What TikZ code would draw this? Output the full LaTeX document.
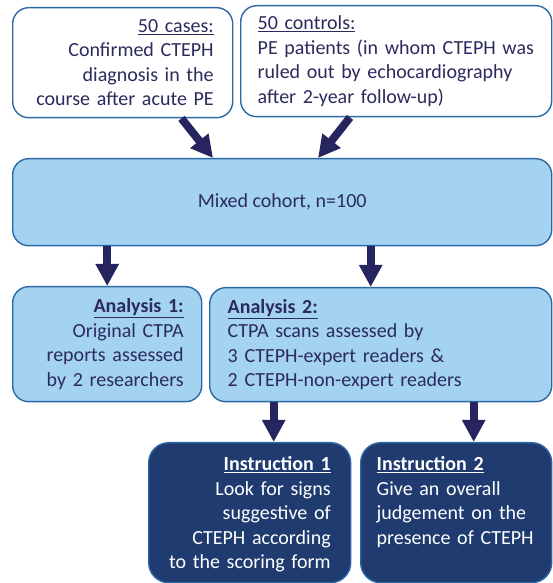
\documentclass[tikz,border=0pt]{standalone}
\usepackage{fontspec}
\setmainfont{Carlito}
\usetikzlibrary{arrows.meta}

\definecolor{boxline}{RGB}{44,104,166}
\definecolor{lightfill}{RGB}{163,211,240}
\definecolor{darkfill}{RGB}{31,59,111}
\definecolor{arrowcol}{RGB}{39,37,95}
\definecolor{txtcol}{RGB}{44,43,94}

\begin{document}
\begin{tikzpicture}[
  x=1pt, y=1pt,
  font=\fontsize{20}{24.5}\selectfont,
  box/.style={draw=boxline, line width=1.4pt, rounded corners=16pt,
              anchor=north west, inner ysep=0pt, text=txtcol},
  whitebox/.style={box, fill=white},
  lightbox/.style={box, fill=lightfill},
  darkbox/.style={box, fill=darkfill, text=white, rounded corners=20pt,
                  text height=28pt, text depth=112pt},
  arr/.style={-{Triangle[length=22pt,width=22pt]}, line width=8pt, arrowcol}
]
\useasboundingbox (0,0) rectangle (552,583);

% sources
\node[whitebox, minimum height=110pt, inner xsep=19pt, text width=182pt,
      align=right] (cases) at (12,576)
  {\underline{50 cases:}\\ Confirmed CTEPH\\ diagnosis in the\\ course after acute PE};
\node[whitebox, minimum height=111pt, inner xsep=17pt, text width=277pt,
      align=left] (controls) at (240,578)
  {\underline{50 controls:}\\ PE patients (in whom CTEPH was\\ ruled out by echocardiography\\ after 2-year follow-up)};

% cohort
\node[lightbox, minimum width=539pt, minimum height=87pt, align=center]
  (cohort) at (12,425) {Mixed cohort, n=100};

% analyses
\node[lightbox, minimum height=115pt, inner xsep=18pt, text width=153pt,
      align=right] (an1) at (12,297)
  {\textbf{\underline{Analysis 1:}}\\ Original CTPA\\ reports assessed\\ by 2 researchers};
\node[lightbox, minimum height=114pt, inner xsep=18pt, text width=306pt,
      align=left] (an2) at (209,296)
  {\textbf{\underline{Analysis 2:}}\\ CTPA scans assessed by\\ 3 CTEPH-expert readers \&\\ 2 CTEPH-non-expert readers};

% instructions
\node[darkbox, inner xsep=20pt, text width=162pt, align=right] (ins1) at (148,141)
  {\textbf{\underline{Instruction 1}}\\ Look for signs\\ suggestive of\\ CTEPH according\\ to the scoring form};
\node[darkbox, inner xsep=16pt, text width=159pt, align=left] (ins2) at (360,141)
  {\textbf{\underline{Instruction 2}}\\ Give an overall\\ judgement on the\\ presence of CTEPH};

% arrows
\draw[arr] ([xshift=-52pt]cases.south east) -- ([xshift=201pt]cohort.north west);
\draw[arr] ([xshift=110pt]controls.south west) -- ([xshift=306pt]cohort.north west);
\draw[arr] (cohort.south -| an1.north) -- (an1.north);
\coordinate (a2in) at ([xshift=-10pt]an2.north);
\draw[arr] (cohort.south -| a2in) -- (a2in);
\coordinate (i1in) at ([xshift=24pt]ins1.north);
\coordinate (i2in) at ([xshift=17.5pt]ins2.north);
\draw[arr] (an2.south -| i1in) -- (i1in);
\draw[arr] (an2.south -| i2in) -- (i2in);
\end{tikzpicture}
\end{document}
